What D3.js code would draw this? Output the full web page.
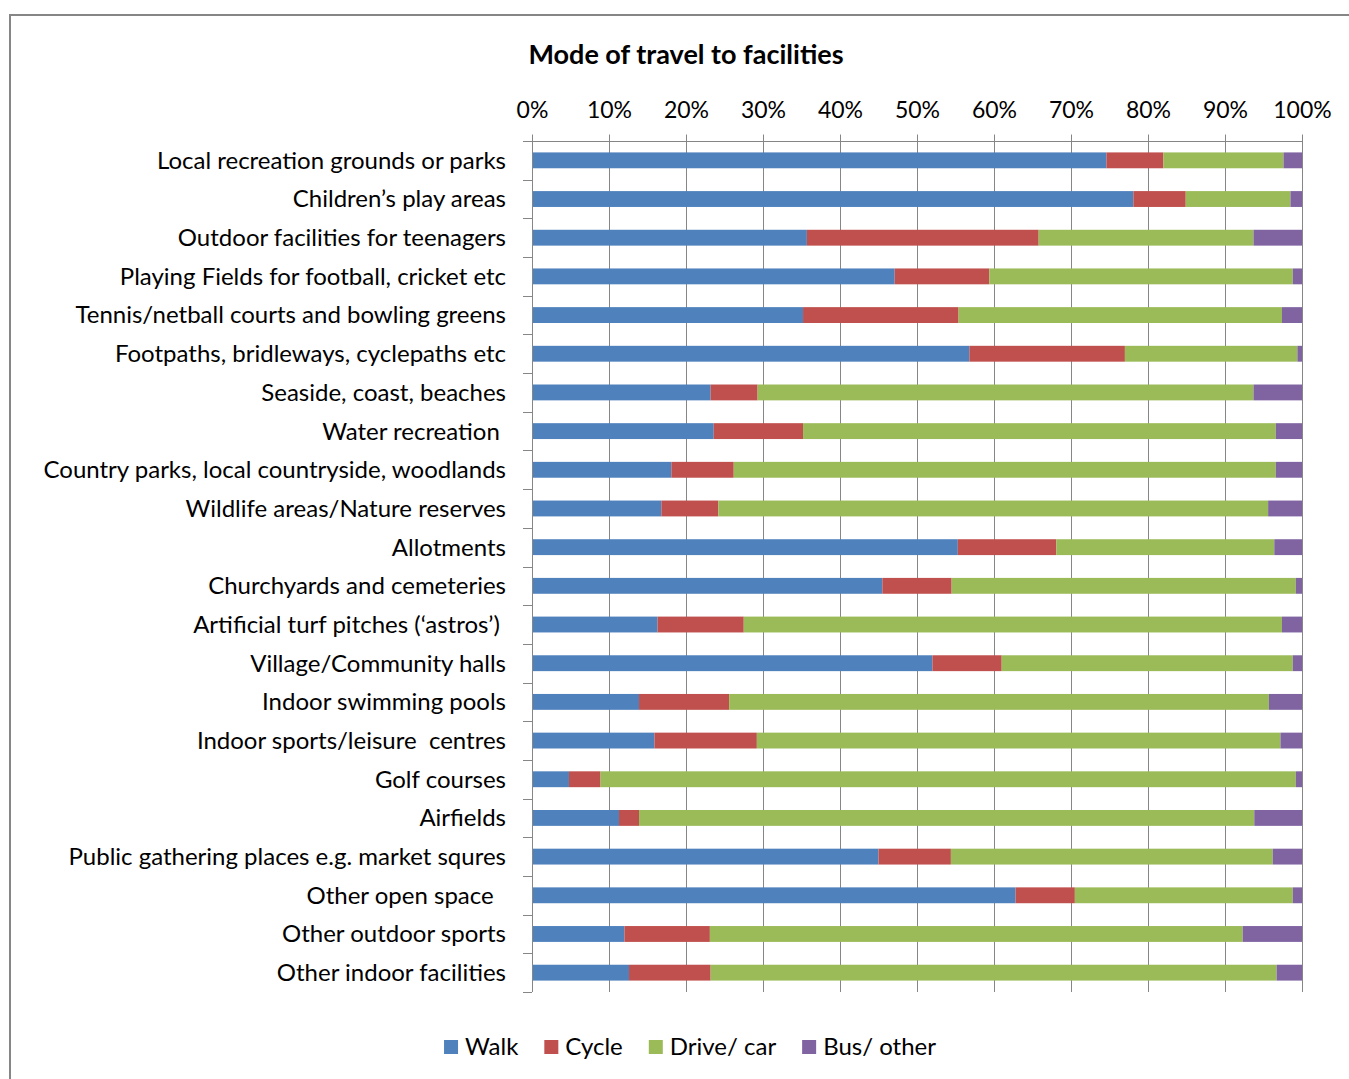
<!DOCTYPE html>
<html>
<head>
<meta charset="utf-8">
<script src="https://cdn.jsdelivr.net/npm/d3@7"></script>
<style>
  body { margin: 0; background: #fff; }
  text { font-family: Lato, "Open Sans", sans-serif; fill: #000; }
</style>
</head>
<body>
<svg id="chart"></svg>
<script>
// categories, top to bottom
var categories = [
    "Local recreation grounds or parks",
    "Children\u2019s play areas",
    "Outdoor facilities for teenagers",
    "Playing Fields for football, cricket etc",
    "Tennis/netball courts and bowling greens",
    "Footpaths, bridleways, cyclepaths etc",
    "Seaside, coast, beaches",
    "Water recreation ",
    "Country parks, local countryside, woodlands",
    "Wildlife areas/Nature reserves",
    "Allotments",
    "Churchyards and cemeteries",
    "Artificial turf pitches (\u2018astros\u2019) ",
    "Village/Community halls",
    "Indoor swimming pools",
    "Indoor sports/leisure  centres",
    "Golf courses",
    "Airfields",
    "Public gathering places e.g. market squres",
    "Other open space  ",
    "Other outdoor sports",
    "Other indoor facilities"
];

// percent of respondents per mode
var walk  = [74.6, 78.1, 35.7, 47.1, 35.2, 56.8, 23.2, 23.6, 18.1, 16.8, 55.3, 45.5, 16.3, 52.0, 13.9, 15.9, 4.8, 11.3, 45.0, 62.8, 12.0, 12.6];
var cycle = [7.4, 6.8, 30.1, 12.3, 20.2, 20.2, 6.1, 11.6, 8.1, 7.4, 12.8, 9.0, 11.2, 9.0, 11.7, 13.3, 4.1, 2.6, 9.4, 7.7, 11.1, 10.6];
var drive = [15.6, 13.6, 27.9, 39.4, 42.0, 22.4, 64.4, 61.4, 70.4, 71.4, 28.3, 44.7, 69.9, 37.8, 70.1, 68.0, 90.3, 79.9, 41.8, 28.3, 69.2, 73.5];
var bus   = [2.4, 1.5, 6.3, 1.2, 2.6, 0.6, 6.3, 3.4, 3.4, 4.4, 3.6, 0.8, 2.6, 1.2, 4.3, 2.8, 0.8, 6.2, 3.8, 1.2, 7.7, 3.3];

var seriesNames = ["Walk", "Cycle", "Drive/ car", "Bus/ other"];
var seriesColors = ["#4f81bd", "#c0504d", "#9bbb59", "#8064a2"];
var tickValues = [0, 0.1, 0.2, 0.3, 0.4, 0.5, 0.6, 0.7, 0.8, 0.9, 1];

drawChart();

function drawChart() {
    var svgWidth = 1349, svgHeight = 1079;
    var plotLeft = 532, plotRight = 1302, plotTop = 141, plotBottom = 992;

    var svg = d3.select("#chart")
        .attr("width", svgWidth)
        .attr("height", svgHeight);

    // outer frame
    svg.append("rect")
        .attr("x", 10)
        .attr("y", 15)
        .attr("width", 1360)
        .attr("height", 1100)
        .attr("fill", "none")
        .attr("stroke", "#868686")
        .attr("stroke-width", 2);

    // table for the stack, share of row total
    var rows = categories.map(function(c, i) {
        var total = walk[i] + cycle[i] + drive[i] + bus[i];
        return {
            cat: c,
            "Walk": walk[i] / total,
            "Cycle": cycle[i] / total,
            "Drive/ car": drive[i] / total,
            "Bus/ other": bus[i] / total
        };
    });

    var stacked = d3.stack().keys(seriesNames)(rows);

    var x = d3.scaleLinear()
        .domain([0, 1])
        .range([plotLeft, plotRight]);

    var y = d3.scaleBand()
        .domain(categories)
        .range([plotTop, plotBottom])
        .paddingInner(0.59)
        .paddingOuter(0.295);

    var bandStep = y.step();

    // gridlines
    svg.append("g")
        .selectAll("line")
        .data(tickValues.slice(1))
        .enter().append("line")
        .attr("x1", function(d) { return Math.round(x(d)) + 0.5; })
        .attr("x2", function(d) { return Math.round(x(d)) + 0.5; })
        .attr("y1", plotTop)
        .attr("y2", plotBottom)
        .attr("stroke", "#868686")
        .attr("stroke-width", 1);

    // bars
    svg.append("g")
        .selectAll("g")
        .data(stacked)
        .enter().append("g")
        .attr("fill", function(d, i) { return seriesColors[i]; })
        .selectAll("rect")
        .data(function(d) { return d; })
        .enter().append("rect")
        .attr("x", function(d) { return x(d[0]); })
        .attr("width", function(d) { return x(d[1]) - x(d[0]); })
        .attr("y", function(d) { return y(d.data.cat); })
        .attr("height", y.bandwidth());

    // top axis
    var xAxis = svg.append("g")
        .attr("transform", "translate(0," + (plotTop + 0.5) + ")")
        .call(d3.axisTop(x)
            .tickValues(tickValues)
            .tickFormat(d3.format(".0%"))
            .tickSizeInner(7)
            .tickSizeOuter(0)
            .tickPadding(17));
    xAxis.select(".domain").attr("stroke", "#868686").attr("d", "M" + (plotLeft - 9) + ",0H" + plotRight);
    xAxis.selectAll(".tick line").attr("stroke", "#868686");
    xAxis.selectAll(".tick text")
        .style("font-size", "23px")
        .style("font-family", "Lato, sans-serif")
        .attr("fill", "#000");

    // left axis line and band ticks
    svg.append("line")
        .attr("x1", plotLeft + 0.5).attr("x2", plotLeft + 0.5)
        .attr("y1", plotTop).attr("y2", plotBottom)
        .attr("stroke", "#868686");

    svg.append("g")
        .selectAll("line")
        .data(d3.range(categories.length + 1))
        .enter().append("line")
        .attr("x1", plotLeft - 9)
        .attr("x2", plotLeft)
        .attr("y1", function(i) { return Math.round(plotTop + i * bandStep) + 0.5; })
        .attr("y2", function(i) { return Math.round(plotTop + i * bandStep) + 0.5; })
        .attr("stroke", "#868686");

    // category labels
    svg.append("g")
        .selectAll("text")
        .data(categories)
        .enter().append("text")
        .attr("x", 506)
        .attr("y", function(d) { return y(d) + y.bandwidth() / 2; })
        .attr("dy", "0.35em")
        .attr("text-anchor", "end")
        .style("white-space", "pre")
        .style("font-size", "24px")
        .text(function(d) { return d; });

    // title
    svg.append("text")
        .attr("x", 686)
        .attr("y", 64)
        .attr("text-anchor", "middle")
        .style("font-size", "27px")
        .style("font-weight", "bold")
        .text("Mode of travel to facilities");

    // legend
    var legend = svg.append("g");
    var lx = 0;
    seriesNames.forEach(function(name, i) {
        legend.append("rect")
            .attr("x", lx)
            .attr("y", 1040)
            .attr("width", 14)
            .attr("height", 14)
            .attr("fill", seriesColors[i]);
        var t = legend.append("text")
            .attr("x", lx + 21)
            .attr("y", 1047)
            .attr("dy", "0.35em")
            .style("font-size", "24px")
            .text(name);
        lx += 21 + t.node().getComputedTextLength() + 26;
    });
    var legendWidth = lx - 26;
    legend.attr("transform", "translate(" + (690 - legendWidth / 2) + ",0)");
}
</script>
</body>
</html>
